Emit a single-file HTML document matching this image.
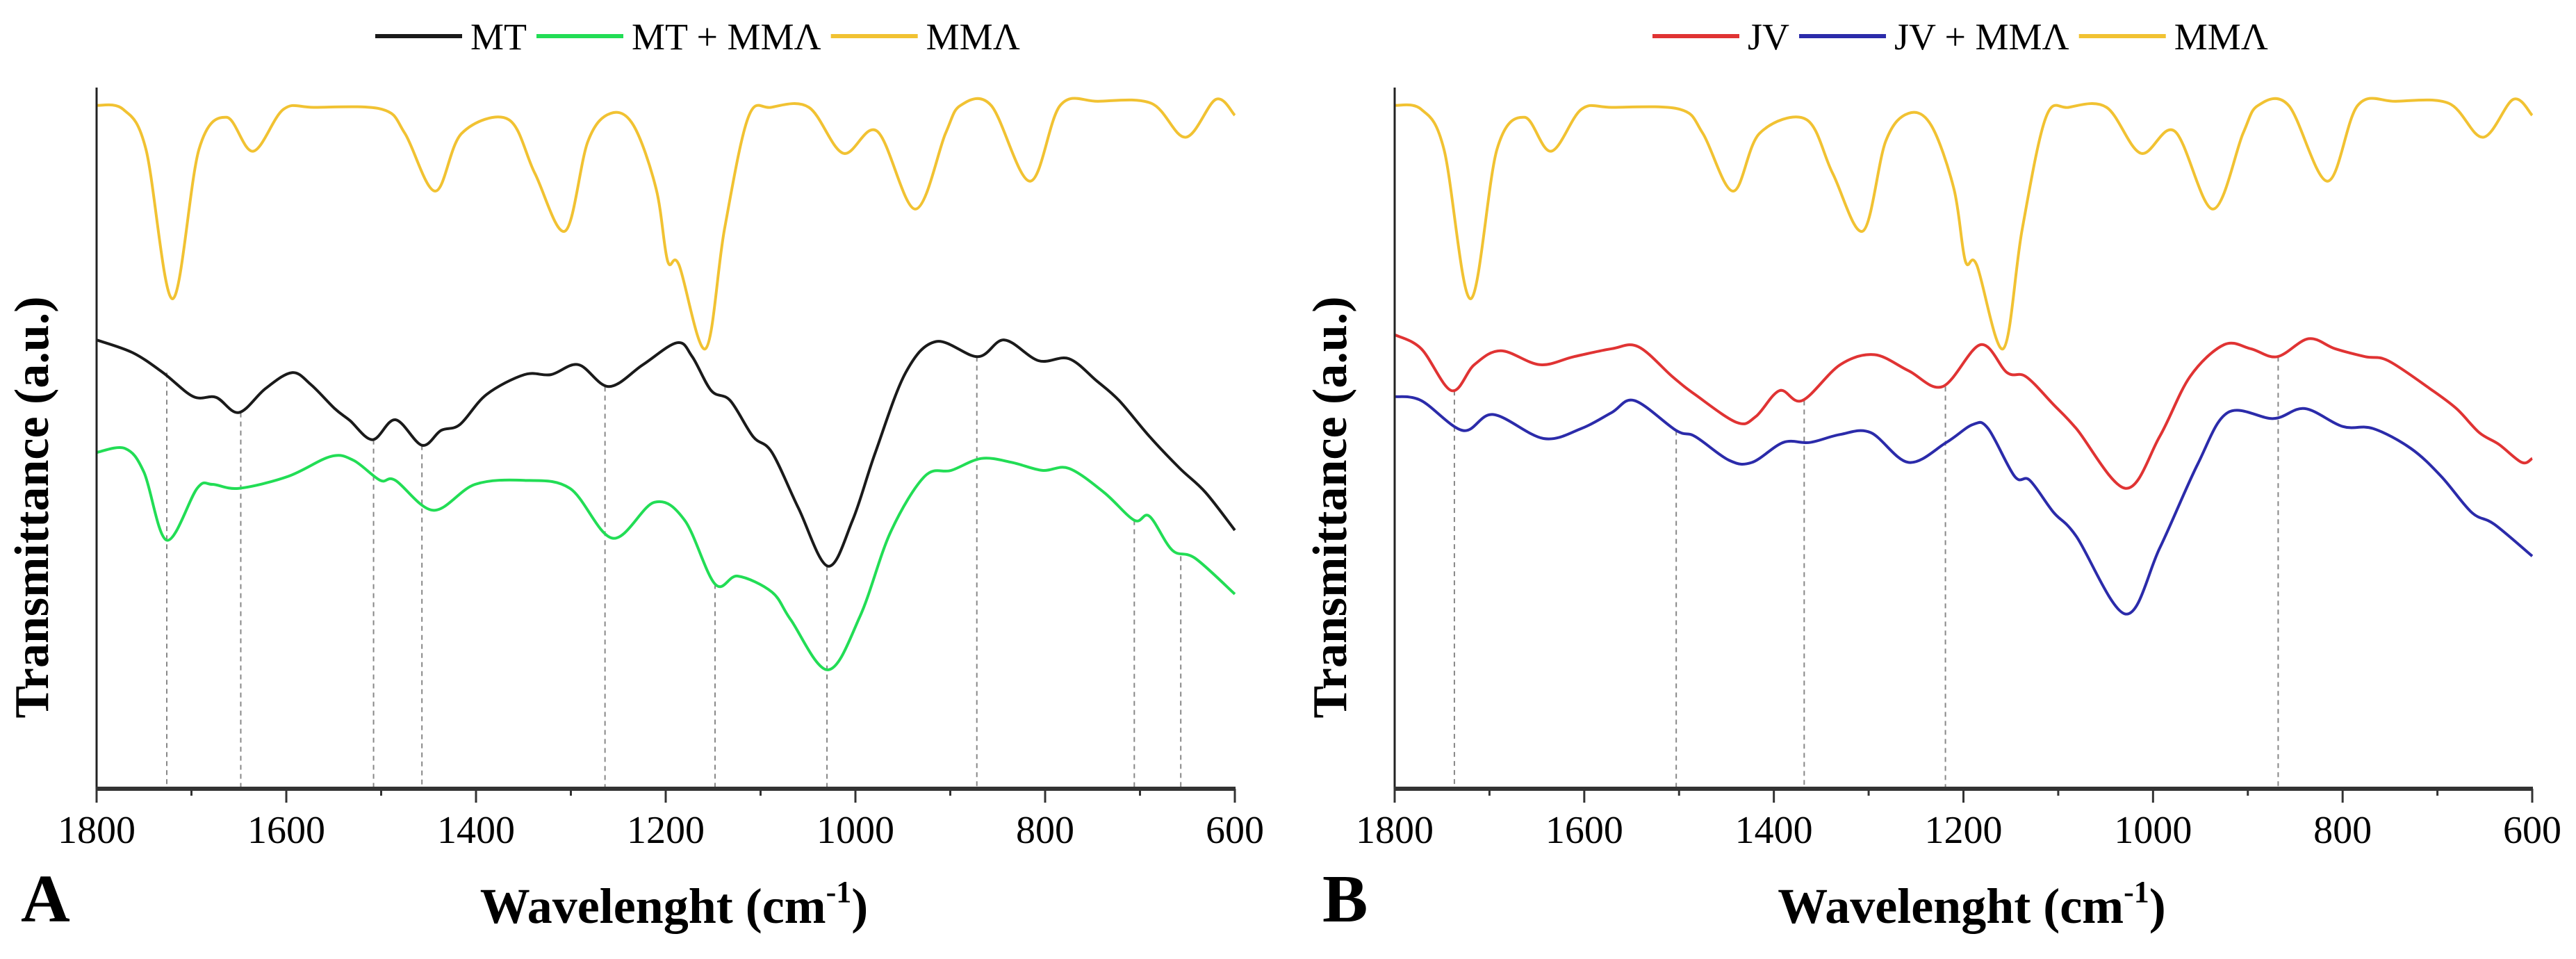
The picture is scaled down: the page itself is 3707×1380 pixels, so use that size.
<!DOCTYPE html>
<html><head><meta charset="utf-8"><style>
html,body{margin:0;padding:0;background:#fff;}
svg{display:block;font-family:"Liberation Serif",serif;}
text{font-family:"Liberation Serif",serif;}
</style></head><body>
<svg id="fig" width="3707" height="1380" viewBox="0 0 3707 1380" xmlns="http://www.w3.org/2000/svg"></svg>
<script>
// ---- data (wavenumber cm-1, transmittance a.u.) ----
const mmaW=[1800,1772,1748,1720,1692,1663,1635,1603,1571,1499,1475,1443,1415,1366,1338,1306,1282,1258,1234,1210,1198,1186,1158,1138,1113,1089,1049,1013,977,937,905,889,857,816,784,744,688,652,620,600];
const mmaV=[171,170,160,122.5,160,168,159.5,170,170.5,170,164,149.5,164,167.5,154,139.5,162,169,166,150,132,131,110,140,168,170.5,170.5,159,164.5,145,164,171,171,152,171,172,171.5,163,172.5,168.5];
const mtW=[1800,1762,1730,1698,1674,1650,1622,1594,1574,1549,1533,1509,1485,1457,1437,1417,1389,1349,1321,1292,1260,1224,1188,1172,1152,1132,1108,1088,1060,1029,1003,979,947,915,871,843,807,775,746,722,690,658,631,600];
const mtV=[112.2,109,104,98,97.8,94,100,104,101,95,92,87.2,92.2,85.8,89.5,91,98.5,103.5,103.5,106,100.5,106,111.5,108,99.5,97,88,84,70,55.5,67,84,104,111.8,108,112.2,107,107.5,102,97,88,80,74,64.5];
const mtmW=[1800,1770,1750,1726,1694,1678,1650,1598,1553,1529,1501,1485,1445,1401,1349,1301,1256,1212,1180,1148,1124,1088,1068,1029,995,963,927,899,867,835,803,775,738,706,690,666,642,600];
const mtmV=[84,85,79,62,75,76,75,78,83,82,77,77,69.5,76,77,75,62.5,71.5,67,51,53,49,42,29.5,43,64,78,79.5,82.5,81.5,79.5,80,74,67,68,59.5,57.5,48.5];
const jvW=[1800,1772,1740,1716,1688,1647,1611,1571,1543,1507,1483,1439,1419,1394,1370,1330,1294,1258,1222,1182,1154,1134,1105,1081,1029,993,961,925,897,869,836,808,776,752,708,680,656,635,611,600];
const jvV=[113.5,110,99.5,106,109.5,106,108,110,110.5,103,98.5,91.5,93,99.5,97,106,108.5,104.5,100.5,111,104,103,96,90,75,88,103,111,110,108,112.5,110,108,107,100,95,89,86,81.5,82.5];
const jvmW=[1800,1772,1728,1696,1643,1603,1571,1547,1503,1483,1447,1423,1390,1362,1330,1298,1258,1218,1190,1174,1146,1130,1105,1081,1029,993,953,921,873,840,800,768,728,696,664,640,600];
const jvmV=[98,97,89.5,93.5,87.5,90,94,97,89.5,88,82,81.5,86.5,86.5,88.5,89,81.5,86.5,91,90,78,77,69,63,43.5,60,81,94,92.5,95,90.5,90,85,78,69,66,58];
const dashAW=[1726,1648,1508,1457,1264,1148,1030,872,706,657];
const dashAV=[104,94,87.2,85.8,100.5,51,55.5,108,67,58];
const dashBW=[1737,1503,1368,1219,868];
const dashBV=[99.5,89.5,97,100.5,108];
const tickLabels=[1800,1600,1400,1200,1000,800,600];

const NS="http://www.w3.org/2000/svg";
const svg=document.getElementById('fig');
const FF='"Liberation Serif", serif';
function mk(tag,attrs,parent){const e=document.createElementNS(NS,tag);for(const k in attrs)e.setAttribute(k,attrs[k]);if(tag==='text')e.setAttribute('font-family',FF);(parent||svg).appendChild(e);return e;}
const yS=v=>1133.3-5.741*v;
function smooth(pts){let d=`M${pts[0][0].toFixed(1)},${pts[0][1].toFixed(1)}`;
 for(let i=0;i<pts.length-1;i++){const p0=pts[Math.max(0,i-1)],p1=pts[i],p2=pts[i+1],p3=pts[Math.min(pts.length-1,i+2)];
  const c1=[p1[0]+(p2[0]-p0[0])/6,p1[1]+(p2[1]-p0[1])/6],c2=[p2[0]-(p3[0]-p1[0])/6,p2[1]-(p3[1]-p1[1])/6];
  d+=`C${c1[0].toFixed(1)},${c1[1].toFixed(1)} ${c2[0].toFixed(1)},${c2[1].toFixed(1)} ${p2[0].toFixed(1)},${p2[1].toFixed(1)}`;}
 return d;}

function panel(x0,x1,key,series,dW,dV,legendX,letter,letterX){
 const xS=w=>x0+(1800-w)/1200*(x1-x0);
 const g=mk('g',{});
 
 
 dW.forEach((w,i)=>{const l=mk('line',{x1:xS(w),x2:xS(w),y1:yS(dV[i]),y2:1133,stroke:'#888','stroke-width':2,'stroke-dasharray':'7,6'},g);
  
  });
 series.forEach(s=>{const pts=s.w.map((w,i)=>[xS(w),yS(s.v[i])]);
  const p=mk('path',{d:smooth(pts),fill:'none',stroke:s.c,'stroke-width':4,'stroke-linejoin':'round'},g);
  
  });
 const ya=mk('line',{x1:x0,x2:x0,y1:126,y2:1136,stroke:'#222','stroke-width':3},g);
 
 
 const xa=mk('line',{x1:x0-1,x2:x1+1,y1:1135,y2:1135,stroke:'#333','stroke-width':6},g);
 
 
 for(let w=1800;w>=600;w-=100){const major=w%200===0;
  const t=mk('line',{x1:xS(w),x2:xS(w),y1:1135,y2:major?1155:1145,stroke:'#333','stroke-width':3},g);
  
  }
 tickLabels.forEach(v=>{const t=mk('text',{x:xS(v),y:1213,'text-anchor':'middle','font-size':56},g);t.textContent=v;
  
  });
 const xt=mk('text',{x:(x0+x1)/2+12,y:1328,'text-anchor':'middle','font-size':72,'font-weight':'bold'},g);
 xt.innerHTML='Wavelenght (cm<tspan font-size="44" dy="-30">-1</tspan><tspan dy="30">)</tspan>';
 
 
 const yt=mk('text',{x:0,y:0,transform:`translate(${x0-70},730) rotate(-90)`,'text-anchor':'middle','font-size':70,'font-weight':'bold'},g);
 yt.textContent='Transmittance (a.u.)';
 
 
 const lt=mk('text',{x:letterX,y:1326,'font-size':98,'font-weight':'bold'},g);lt.textContent=letter;
 
 
 let lx=legendX;
 series.slice().reverse().forEach(s=>{
  const e=mk('g',{},g);
  
  
  mk('line',{x1:lx,x2:lx+125,y1:52,y2:52,stroke:s.c,'stroke-width':6},e);
  const t=mk('text',{x:lx+137,y:71,'font-size':54},e);t.textContent=s.label;
  lx+=137+t.getComputedTextLength()+14;});
}
panel(139,1777,'a',[
 {id:'mma',label:'MMΛ',w:mmaW,v:mmaV,c:'#f1c232'},
 {id:'mt-mma',label:'MT + MMΛ',w:mtmW,v:mtmV,c:'#22dd55'},
 {id:'mt',label:'MT',w:mtW,v:mtV,c:'#1a1a1a'}],dashAW,dashAV,540,'A',30);
panel(2007,3644,'b',[
 {id:'mma-b',label:'MMΛ',w:mmaW,v:mmaV,c:'#f1c232'},
 {id:'jv-mma',label:'JV + MMΛ',w:jvmW,v:jvmV,c:'#2b2baa'},
 {id:'jv',label:'JV',w:jvW,v:jvV,c:'#e03333'}],dashBW,dashBV,2378,'B',1903);
</script>
</body></html>
